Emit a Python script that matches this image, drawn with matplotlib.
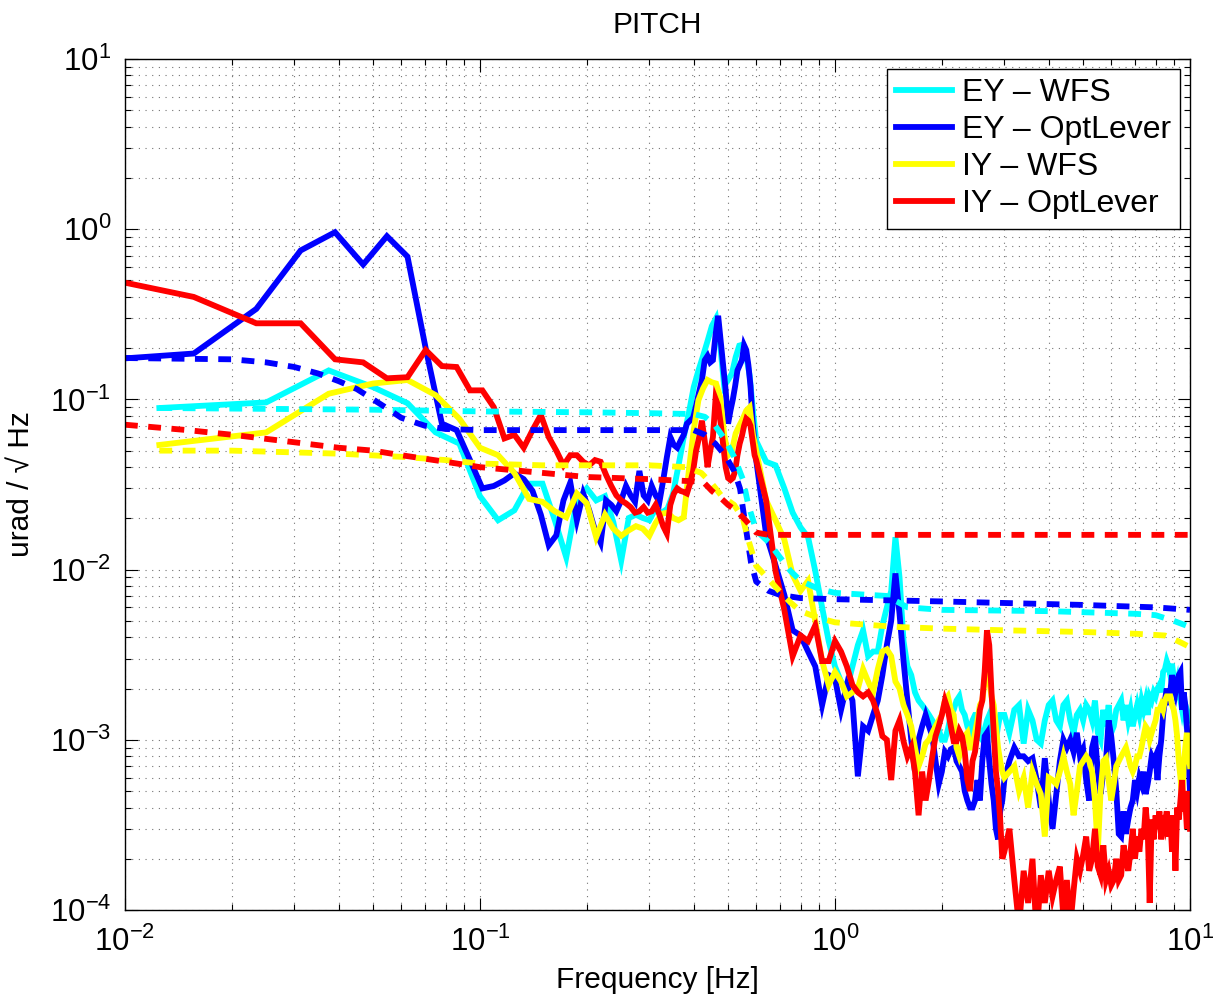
import numpy as np
import matplotlib
matplotlib.use("Agg")
import matplotlib.pyplot as plt

plt.rcParams['font.family'] = ['Liberation Sans', 'DejaVu Sans']
plt.rcParams['mathtext.fontset'] = 'custom'
plt.rcParams['mathtext.rm'] = 'Liberation Sans'
plt.rcParams['mathtext.it'] = 'Liberation Sans:italic'
plt.rcParams['mathtext.bf'] = 'Liberation Sans:bold'

# FFT bin grids: optical levers at 1/128 Hz, WFS at 1/80 Hz, above 0.6 Hz a coarser shared grid
f_opl_low = np.arange(1, 77) / 128.0
f_wfs_low = np.arange(1, 48) / 80.0
f_hi = np.concatenate([np.linspace(0.6, 3.0, 61), np.linspace(3.1, 10.0, 70)])

# ---- EY - WFS (cyan) ----
ey_wfs_low = [0.089, 0.096, 0.148, 0.118, 0.095, 0.064, 0.055, 0.027, 0.0195, 0.0223,
              0.032, 0.032, 0.0195, 0.0118, 0.0255, 0.030, 0.0255, 0.027, 0.019, 0.0113,
              0.0201, 0.021, 0.0201, 0.0195, 0.0228, 0.0216, 0.0228, 0.028, 0.041, 0.06,
              0.083, 0.118, 0.148, 0.18, 0.22, 0.27, 0.30, 0.207, 0.12, 0.13,
              0.142, 0.177, 0.207, 0.21, 0.18, 0.138, 0.086]
ey_wfs_hi = [0.057, 0.043, 0.041, 0.030, 0.0216, 0.0177, 0.0155, 0.0098, 0.006, 0.0038,
             0.0027, 0.0022, 0.0020, 0.0027, 0.0036, 0.0044, 0.0031, 0.0033, 0.0033, 0.0047,
             0.006, 0.0075, 0.0155, 0.009, 0.0038, 0.0027, 0.0024, 0.0019, 0.0017, 0.0016,
             0.0015, 0.0014, 0.0013, 0.0012, 0.00115, 0.001, 0.001, 0.00115, 0.0014, 0.0015,
             0.0017, 0.0018, 0.0015, 0.0014, 0.0012, 0.0011, 0.0013, 0.0014, 0.0014, 0.00105,
             0.001, 0.00115, 0.0013, 0.0014, 0.00115, 0.001, 0.001, 0.0012, 0.0014, 0.0014,
             0.0014,
             0.0011, 0.0015, 0.0016, 0.00095, 0.0015, 0.0013, 0.001, 0.00095, 0.0013, 0.0016,
             0.0017, 0.0013, 0.0012, 0.0016, 0.0017, 0.0013, 0.0011, 0.0014, 0.0015, 0.0013,
             0.0016, 0.0015, 0.0013, 0.0017, 0.0011, 0.001, 0.0015, 0.0012, 0.0016, 0.0011,
             0.0012, 0.0015, 0.0016, 0.0017, 0.0013, 0.0016, 0.0013, 0.0015, 0.0012, 0.0014,
             0.0016, 0.0014, 0.0017, 0.0015, 0.0017, 0.0014, 0.0018, 0.0017, 0.0019, 0.0018,
             0.002, 0.0021, 0.0019, 0.0025, 0.0026, 0.0029, 0.0027, 0.0024, 0.0028, 0.0023,
             0.002, 0.0022, 0.0018, 0.0017, 0.0015, 0.0017, 0.0014, 0.0015, 0.0014, 0.0013]

# ---- EY - OptLever (blue) ----
ey_opl_low = [0.168, 0.186, 0.34, 0.75, 0.96, 0.62, 0.91, 0.69, 0.20, 0.072,
              0.066, 0.044, 0.030, 0.031, 0.0334, 0.0368, 0.034, 0.029, 0.021, 0.0139,
              0.0159, 0.0255, 0.0325, 0.0195, 0.028, 0.0223, 0.017, 0.0144, 0.0255, 0.024,
              0.022, 0.0255, 0.031, 0.0273, 0.025, 0.038, 0.0273, 0.0255, 0.031, 0.0273,
              0.025, 0.0334, 0.0455, 0.06, 0.054, 0.052, 0.057, 0.062, 0.072, 0.075,
              0.078, 0.092, 0.11, 0.13, 0.17, 0.18, 0.165, 0.17, 0.24, 0.31,
              0.22, 0.155, 0.113, 0.072, 0.086, 0.10, 0.12, 0.148, 0.159, 0.17,
              0.208, 0.195, 0.159, 0.12, 0.075, 0.054]
ey_opl_hi = [0.044, 0.016, 0.0106, 0.0071, 0.0044, 0.0041, 0.0033, 0.0027, 0.0016, 0.0024,
             0.0023, 0.0015, 0.0021, 0.0017, 0.00061, 0.0012, 0.00113, 0.0014, 0.0017, 0.0024,
             0.0036, 0.005, 0.0095, 0.0055, 0.0029, 0.0017, 0.001, 0.00065, 0.001, 0.0012,
             0.0014, 0.0012, 0.00105, 0.00075, 0.00055, 0.00065, 0.00085, 0.0008, 0.00088, 0.0009,
             0.00075, 0.0007, 0.00065, 0.0005, 0.00044, 0.0004, 0.0004, 0.00044, 0.00058, 0.00044,
             0.00075, 0.00105, 0.0011, 0.00075, 0.00055, 0.00044, 0.0003, 0.00026, 0.00038, 0.00044,
             0.00058,
             0.00075, 0.0009, 0.0008, 0.0008, 0.00075, 0.00078, 0.00058, 0.0004, 0.00078, 0.00044,
             0.0003, 0.00048, 0.00075, 0.001, 0.0009, 0.001, 0.00085, 0.0011, 0.0008, 0.00088,
             0.00058, 0.00044, 0.0009, 0.00105, 0.00065, 0.00048, 0.00065, 0.00075, 0.0013, 0.00105,
             0.00075, 0.0005, 0.00028, 0.00027, 0.00038, 0.00028, 0.00034, 0.0004, 0.00044, 0.00058,
             0.0005, 0.0006, 0.00055, 0.00065, 0.00048, 0.00055, 0.00065, 0.0008, 0.00075, 0.0008,
             0.00058, 0.0008, 0.001, 0.0014, 0.0017, 0.002, 0.0016, 0.0019, 0.0024, 0.0021,
             0.0019, 0.0022, 0.0024, 0.0025, 0.0015, 0.0019, 0.0016, 0.0012, 0.0008, 0.0005]

# ---- IY - WFS (yellow) ----
iy_wfs_low = [0.054, 0.064, 0.108, 0.124, 0.13, 0.106, 0.077, 0.052, 0.047, 0.037,
              0.026, 0.025, 0.022, 0.0203, 0.028, 0.0245, 0.0155, 0.021, 0.0174, 0.0158,
              0.017, 0.018, 0.0174, 0.0158, 0.0188, 0.0213, 0.0216, 0.0201, 0.0195, 0.0203,
              0.038, 0.066, 0.099, 0.116, 0.13, 0.126, 0.124, 0.103, 0.062, 0.047,
              0.05, 0.063, 0.07, 0.077, 0.086, 0.09, 0.062]
iy_wfs_hi = [0.05, 0.0255, 0.0195, 0.015, 0.0093, 0.0075, 0.0086, 0.005, 0.0029, 0.0021,
             0.0025, 0.0022, 0.0018, 0.0019, 0.002, 0.0026, 0.0022, 0.0019, 0.0026, 0.0033,
             0.0034, 0.0031, 0.0022, 0.002, 0.0016, 0.0014, 0.0012, 0.0009, 0.0007, 0.0008,
             0.00095, 0.001, 0.0011, 0.0012, 0.0013, 0.0014, 0.0017, 0.0018, 0.0015, 0.0014,
             0.0009, 0.0008, 0.0009, 0.00105, 0.0011, 0.0009, 0.0009, 0.0011, 0.0013, 0.0016,
             0.0017, 0.0022, 0.0029, 0.0022, 0.0018, 0.0016, 0.0012, 0.0009, 0.00075, 0.00065,
             0.0006,
             0.00065, 0.0007, 0.0005, 0.0006, 0.0004, 0.00065, 0.00055, 0.00048, 0.00027, 0.0006,
             0.00058, 0.00055, 0.00065, 0.0008, 0.00065, 0.00055, 0.00036, 0.0005, 0.0007, 0.00075,
             0.0008, 0.00075, 0.00065, 0.00044, 0.00022, 0.0005, 0.00075, 0.00078, 0.00058, 0.00044,
             0.00055, 0.0007, 0.00075, 0.0008, 0.00085, 0.0009, 0.0008, 0.0007, 0.00065, 0.0007,
             0.0008, 0.0008, 0.0009, 0.00105, 0.0012, 0.00115, 0.001, 0.0011, 0.0012, 0.0013,
             0.0015, 0.0015, 0.0016, 0.0015, 0.0017, 0.0018, 0.0018, 0.0018, 0.0016, 0.0015,
             0.0013, 0.00105, 0.00075, 0.0006, 0.00044, 0.0007, 0.0009, 0.0011, 0.00085, 0.0007]

# ---- IY - OptLever (red) ----
iy_opl_low = [0.54, 0.40, 0.28, 0.28, 0.172, 0.165, 0.133, 0.135, 0.195, 0.157,
              0.155, 0.113, 0.113, 0.09, 0.059, 0.062, 0.052, 0.066, 0.081, 0.06,
              0.05, 0.041, 0.047, 0.047, 0.043, 0.041, 0.044, 0.043, 0.036, 0.031,
              0.0273, 0.0255, 0.0245, 0.0233, 0.0216, 0.022, 0.0233, 0.0216, 0.022, 0.024,
              0.021, 0.018, 0.0163, 0.024, 0.0279, 0.030, 0.029, 0.0286, 0.028, 0.032,
              0.038, 0.05, 0.0595, 0.075, 0.057, 0.04, 0.05, 0.06, 0.101, 0.092,
              0.072, 0.054, 0.040, 0.0345, 0.0336, 0.0345, 0.038, 0.047, 0.055, 0.061,
              0.07, 0.077, 0.075, 0.07, 0.057, 0.047]
iy_opl_hi = [0.044, 0.0255, 0.0098, 0.0058, 0.0031, 0.0041, 0.0038, 0.0047, 0.0029, 0.0029,
             0.0038, 0.0033, 0.0027, 0.0021, 0.0019, 0.0018, 0.0019, 0.0017, 0.0014, 0.00105,
             0.0010, 0.00058, 0.00113, 0.0013, 0.00098, 0.0008, 0.0009, 0.00065, 0.00036, 0.00065,
             0.00044, 0.00058, 0.0008, 0.00105, 0.0012, 0.0014, 0.0017, 0.0015, 0.0012, 0.00098,
             0.00098, 0.00113, 0.00105, 0.00085, 0.00058, 0.0005, 0.00075, 0.00085, 0.0011, 0.0015,
             0.0017, 0.0025, 0.0044, 0.0036, 0.0019, 0.0011, 0.00065, 0.0005, 0.00034, 0.0002,
             0.00022,
             0.0003, 0.00015, 0.00008, 0.00017, 0.00011, 0.0002, 0.00007, 0.00016, 0.00011, 0.00017,
             0.00012, 0.00015, 0.00018, 0.00009, 0.00015, 0.00008, 0.00013, 0.0002, 0.00017, 0.00021,
             0.00027, 0.00017, 0.0002, 0.0003, 0.00018, 0.00016, 0.00024, 0.00015, 0.00017, 0.00014,
             0.00015, 0.0002, 0.00015, 0.00016, 0.00024, 0.0002, 0.00017, 0.00022, 0.0003, 0.0002,
             0.00027, 0.00022, 0.0003, 0.00026, 0.0004, 0.0003, 0.00011, 0.00034, 0.00026, 0.00036,
             0.0003, 0.00038, 0.00026, 0.00036, 0.00032, 0.00038, 0.00027, 0.00036, 0.00022, 0.00036,
             0.00017, 0.0004, 0.00034, 0.00044, 0.00058, 0.00038, 0.00044, 0.0003, 0.0005, 0.0003]

# ---- model curves (dashed) ----
ey_wfs_fit_f = [0.0125, 0.05, 0.1, 0.2, 0.3, 0.4, 0.43, 0.46, 0.49, 0.52, 0.55, 0.57, 0.6,
                0.65, 0.7, 0.75, 0.8, 0.9, 1.0, 1.4, 1.6, 2.0, 4.0, 7.0, 8.0, 9.0, 10.0]
ey_wfs_fit = [0.089, 0.087, 0.085, 0.084, 0.083, 0.082, 0.079, 0.07, 0.058, 0.046, 0.034, 0.024, 0.017,
              0.0145, 0.0118, 0.0098, 0.0086, 0.0077, 0.0073, 0.007, 0.006, 0.0058, 0.0057, 0.0055,
              0.0054, 0.005, 0.0046]
ey_opl_fit_f = [0.01, 0.02, 0.025, 0.03, 0.035, 0.04, 0.045, 0.05, 0.055, 0.06, 0.07, 0.08,
                0.1, 0.2, 0.3, 0.4, 0.43, 0.46, 0.49, 0.52, 0.54, 0.56, 0.58, 0.6, 0.65,
                0.7, 0.8, 1.0, 2.0, 5.0, 8.0, 10.0]
ey_opl_fit = [0.175, 0.172, 0.165, 0.155, 0.142, 0.128, 0.115, 0.1, 0.088, 0.078, 0.07, 0.067,
              0.066, 0.066, 0.066, 0.066, 0.062, 0.055, 0.047, 0.038, 0.03, 0.018, 0.011, 0.0085, 0.0075,
              0.0071, 0.0068, 0.0067, 0.0065, 0.0062, 0.006, 0.0058]
iy_wfs_fit_f = [0.0125, 0.02, 0.04, 0.06, 0.08, 0.1, 0.15, 0.2, 0.3, 0.38, 0.42, 0.45, 0.48,
                0.52, 0.55, 0.57, 0.6, 0.65, 0.7, 0.75, 0.8, 0.9, 1.0, 1.5, 2.0, 3.0, 5.0,
                7.0, 8.5, 9.0, 9.5, 10.0]
iy_wfs_fit = [0.05, 0.05, 0.048, 0.046, 0.044, 0.042, 0.041, 0.041, 0.041, 0.040, 0.037, 0.032, 0.027,
              0.024, 0.02, 0.015, 0.0105, 0.0088, 0.0074, 0.0064, 0.0057, 0.0052, 0.0049, 0.0046,
              0.0045, 0.0044, 0.0043, 0.0042, 0.0041, 0.0039, 0.0037, 0.0035]
iy_opl_fit_f = [0.01, 0.015, 0.02, 0.03, 0.04, 0.05, 0.06, 0.08, 0.1, 0.15, 0.2, 0.3, 0.4,
                0.43, 0.45, 0.48, 0.5, 0.53, 0.56, 0.6, 0.65, 1.0, 10.0]
iy_opl_fit = [0.071, 0.066, 0.062, 0.056, 0.052, 0.05, 0.047, 0.043, 0.040, 0.037, 0.035, 0.034, 0.033,
              0.032, 0.029, 0.026, 0.024, 0.022, 0.0195, 0.0165, 0.016, 0.016, 0.016]

labels = ['EY \u2013 WFS', 'EY \u2013 OptLever', 'IY \u2013 WFS', 'IY \u2013 OptLever']
colors = ['#00ffff', '#0000ff', '#ffff00', '#ff0000']

fig = plt.figure(figsize=(12.19, 10.0), dpi=100)
ax = fig.add_axes([0.1025, 0.09, 0.8737, 0.851])

lw = 4.2
solid = [
    (np.concatenate([f_wfs_low, f_hi]), ey_wfs_low + ey_wfs_hi),
    (np.concatenate([f_opl_low, f_hi]), ey_opl_low + ey_opl_hi),
    (np.concatenate([f_wfs_low, f_hi]), iy_wfs_low + iy_wfs_hi),
    (np.concatenate([f_opl_low, f_hi]), iy_opl_low + iy_opl_hi),
]
for (f, v), c, lab in zip(solid, colors, labels):
    ax.loglog(f, v, color=c, lw=lw, label=lab, solid_joinstyle='miter')

fits = [(ey_wfs_fit_f, ey_wfs_fit), (ey_opl_fit_f, ey_opl_fit),
        (iy_wfs_fit_f, iy_wfs_fit), (iy_opl_fit_f, iy_opl_fit)]
for (f, v), c in zip(fits, colors):
    ax.loglog(f, v, color=c, lw=lw, linestyle=(0, (2.2, 1.8)))

ax.set_xlim(1e-2, 10)
ax.set_ylim(1e-4, 10)
ax.grid(True, which='both', color='0.45', linestyle=(0, (1, 5)), lw=0.8)
ax.tick_params(which='both', direction='in', top=True, right=True, labelsize=22.5, width=0.8)
ax.tick_params(which='major', length=9)
ax.tick_params(which='minor', length=4.5)
ax.tick_params(axis='x', which='major', pad=12)
ax.tick_params(axis='y', which='major', pad=10)
for s in ax.spines.values():
    s.set_linewidth(1.0)

ax.set_title('PITCH', fontsize=21.5, pad=19)
ax.set_xlabel('Frequency [Hz]', fontsize=21.5, labelpad=6)
ax.set_ylabel('urad / \u221a Hz', fontsize=21.5, labelpad=10)

leg = ax.legend(loc='upper right', fontsize=23, fancybox=False, framealpha=1,
                edgecolor='black', borderaxespad=0.3, handlelength=1.75,
                handletextpad=0.3, labelspacing=0.22, borderpad=0.3)
leg.get_frame().set_linewidth(1.0)

fig.savefig('out.png', dpi=100)
